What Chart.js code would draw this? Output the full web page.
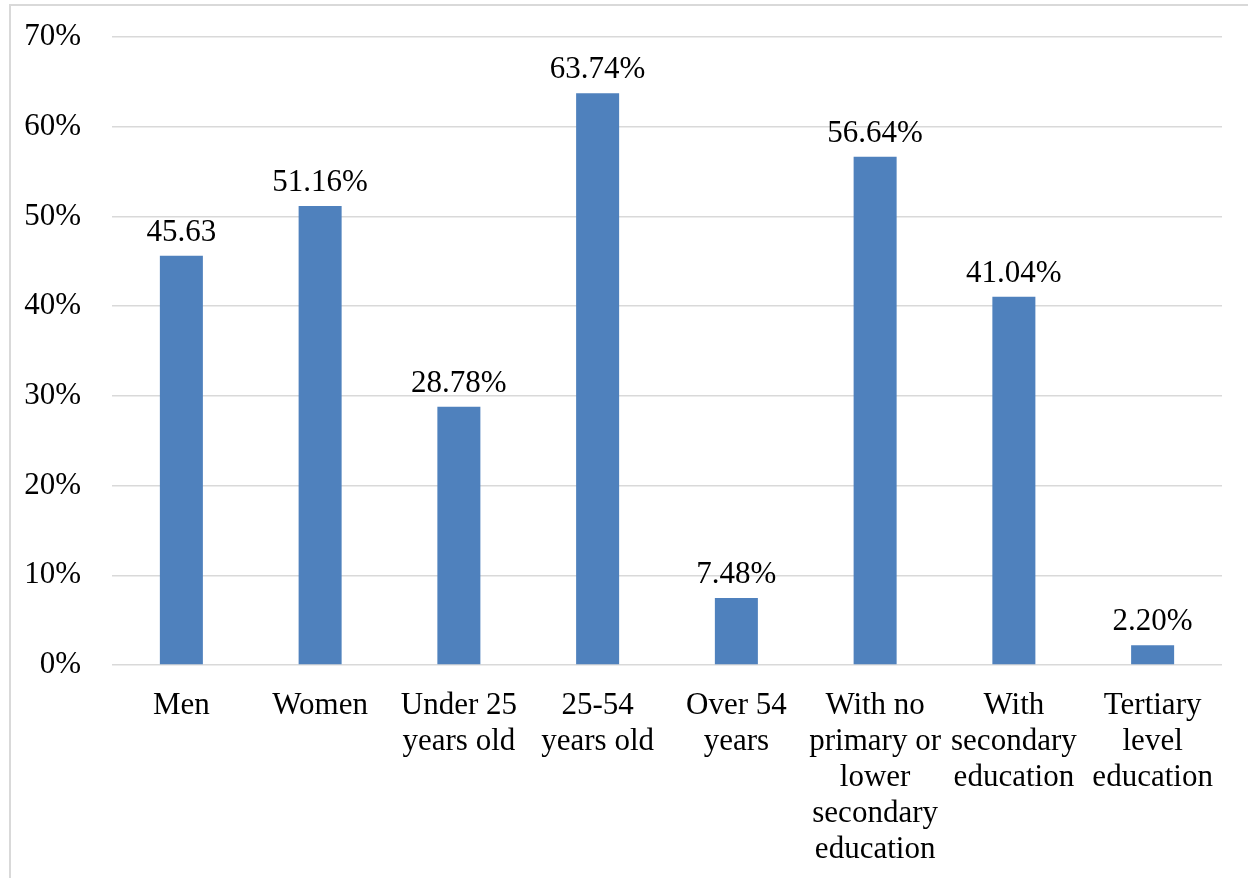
<!DOCTYPE html>
<html>
<head>
<meta charset="utf-8">
<script src="https://cdn.jsdelivr.net/npm/chart.js@4/dist/chart.umd.min.js"></script>
<style>
  html, body { margin: 0; padding: 0; background: #fff; overflow: hidden; }
  .frame {
    position: absolute; left: 9px; top: 4px; width: 1300px; height: 900px;
    border: 2px solid #d9d9d9; box-sizing: border-box;
  }
  .wrap { position: absolute; left: 0; top: 0; width: 1248px; height: 878px; }
</style>
</head>
<body>
<div class="frame"></div>
<div class="wrap"><canvas id="chart" width="1248" height="878"></canvas></div>
<script>
const categories = [
  ['Men'],
  ['Women'],
  ['Under 25', 'years old'],
  ['25-54', 'years old'],
  ['Over 54', 'years'],
  ['With no', 'primary or', 'lower', 'secondary', 'education'],
  ['With', 'secondary', 'education'],
  ['Tertiary', 'level', 'education']
];
const shares = [45.63, 51.16, 28.78, 63.74, 7.48, 56.64, 41.04, 2.20];
// the first label is printed without a percent sign
const labelSuffix = ['', '%', '%', '%', '%', '%', '%', '%'];
const yTicks = [0, 10, 20, 30, 40, 50, 60, 70];

const FONT = 'Liberation Serif, Times New Roman, serif';
const FONT_SIZE = 31;

const valueLabels = {
  id: 'valueLabels',
  afterDatasetsDraw(chart) {
    const ctx = chart.ctx;
    const meta = chart.getDatasetMeta(0);
    ctx.save();
    ctx.font = FONT_SIZE + 'px ' + FONT;
    ctx.fillStyle = '#000';
    ctx.textAlign = 'center';
    ctx.textBaseline = 'alphabetic';
    meta.data.forEach((bar, i) => {
      ctx.fillText(shares[i].toFixed(2) + labelSuffix[i], bar.x, bar.y - 15);
    });
    ctx.restore();
  }
};

new Chart(document.getElementById('chart'), {
  type: 'bar',
  data: {
    labels: categories,
    datasets: [{
      data: shares,
      backgroundColor: '#4f81bd',
      borderWidth: 0,
      categoryPercentage: 1,
      barPercentage: 0.31
    }]
  },
  options: {
    responsive: false,
    animation: false,
    layout: { padding: { top: 37, right: 26, bottom: 0, left: 0 } },
    plugins: { legend: { display: false }, tooltip: { enabled: false } },
    scales: {
      x: {
        grid: { display: false, drawTicks: false },
        border: { display: false },
        ticks: {
          color: '#000',
          font: { family: FONT, size: FONT_SIZE, lineHeight: 36 / FONT_SIZE },
          padding: 23,
          maxRotation: 0,
          autoSkip: false
        },
        afterFit(s) { s.height = 878 - 665; s.paddingLeft = 0; s.paddingRight = 0; }
      },
      y: {
        min: 0,
        max: 70,
        afterBuildTicks(s) { s.ticks = yTicks.map(v => ({ value: v })); },
        grid: { color: '#d9d9d9', lineWidth: 1.5, drawTicks: false },
        border: { display: false },
        ticks: {
          color: '#000',
          font: { family: FONT, size: FONT_SIZE },
          padding: 31,
          callback: v => v + '%'
        },
        afterFit(s) { s.width = 112; s.paddingTop = 0; s.paddingBottom = 0; }
      }
    }
  },
  plugins: [valueLabels]
});
</script>
</body>
</html>
